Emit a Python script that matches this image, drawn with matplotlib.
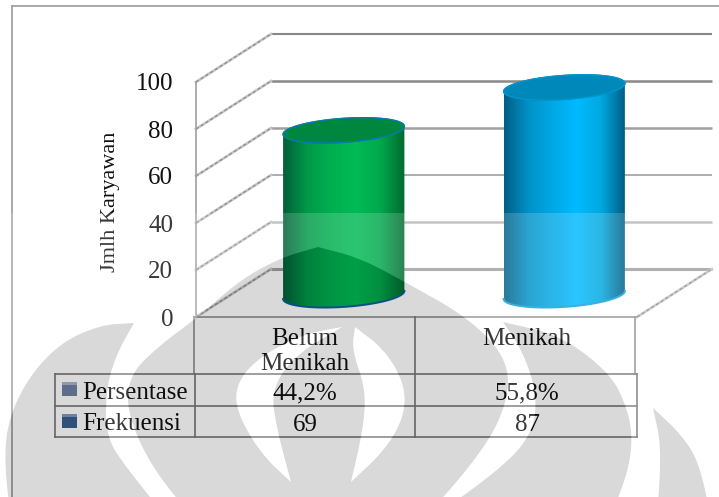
import numpy as np
import matplotlib
matplotlib.use("Agg")
import matplotlib.pyplot as plt
from matplotlib.colors import LinearSegmentedColormap
from matplotlib.patches import PathPatch, Rectangle
from matplotlib.path import Path

plt.rcParams['font.family'] = ['Liberation Serif', 'DejaVu Serif']

# data
categories = ["Belum\nMenikah", "Menikah"]
frekuensi = [69, 87]
persentase = ["44,2%", "55,8%"]
y_ticks = [0, 20, 40, 60, 80, 100]
row_names = ["Persentase", "Frekuensi"]

W, H = 719, 497
DEPTH_X, DEPTH_Y = 0.34, 20.4
CYL_X, CYL_Y = 0.17, 9.4
CYL_W, CYL_B, CYL_TILT = 0.275, 5.1, 1.7
BAR_STRETCH = 1.015

green_stops = ["#00603a", "#009a48", "#00b050", "#00bb55", "#00a84c", "#006a30"]
blue_stops = ["#005f85", "#0092c8", "#00a8e6", "#00baff", "#00a8e0", "#005a80"]

# watermark outlines in pixels, each one a list of chains that meet at sharp tips
logo_outer = [
    [[(134, 323), (100, 325), (60, 343), (28, 378), (8, 420), (4, 465), (14, 540)],
     [(14, 540), (185, 540)],
     [(185, 540), (128, 470), (106, 437), (106, 390), (116, 355), (134, 323)]],
    [[(318, 247), (280, 258), (240, 280), (198, 317), (160, 345), (129, 375), (127, 415),
      (157, 477), (215, 540)],
     [(215, 540), (405, 540)],
     [(405, 540), (485, 450), (510, 395), (505, 355), (467, 317), (407, 283), (360, 258), (318, 247)]],
    [[(503, 322), (560, 335), (610, 373), (627, 407), (633, 440), (626, 480), (600, 540)],
     [(600, 540), (400, 540)],
     [(400, 540), (500, 470), (533, 433), (537, 393), (522, 350), (503, 322)]],
    [[(653, 408), (680, 433), (700, 463), (715, 540)],
     [(715, 540), (655, 540)],
     [(655, 540), (662, 450), (653, 408)]],
]
logo_holes = [
    [[(342, 327), (300, 335), (255, 360), (235, 387), (238, 415), (262, 455), (291, 482)],
     [(291, 482), (277, 430), (271, 390), (295, 355), (342, 327)]],
    [[(355, 327), (385, 350), (405, 385), (404, 417), (385, 450), (351, 482)],
     [(351, 482), (363, 430), (366, 390), (352, 350), (355, 327)]],
]


def smooth_chain(pts, n=3):
    pts = np.array(pts, dtype=float)
    for _ in range(n):
        if len(pts) < 3:
            return pts
        a, b = pts[:-1], pts[1:]
        mid = np.column_stack([0.75 * a + 0.25 * b, 0.25 * a + 0.75 * b]).reshape(-1, 2)
        pts = np.vstack([pts[:1], mid, pts[-1:]])
    return pts


def ring(chains):
    return np.vstack([smooth_chain(c)[:-1] for c in chains])


def oriented(pts, ccw=True):
    x, y = pts[:, 0], pts[:, 1]
    area = np.sum(x * np.roll(y, -1) - np.roll(x, -1) * y)
    return pts if (area > 0) == ccw else pts[::-1]


def compound(rings):
    verts, codes = [], []
    for r in rings:
        verts.extend(r.tolist() + [r[0].tolist()])
        codes.extend([Path.MOVETO] + [Path.LINETO] * (len(r) - 1) + [Path.CLOSEPOLY])
    return Path(verts, codes)


def draw_cylinder(ax, i, value, stops, top_color, rim_top, rim_base):
    xc = i + 0.5 + CYL_X
    top = CYL_Y + value * BAR_STRETCH
    t_low = np.linspace(np.pi, 2 * np.pi, 60)
    t_up = np.linspace(0, np.pi, 60)
    low = np.column_stack([xc + CYL_W * np.cos(t_low),
                           CYL_Y + CYL_B * np.sin(t_low) + CYL_TILT * np.cos(t_low)])
    up = np.column_stack([xc + CYL_W * np.cos(t_up),
                          top + CYL_B * np.sin(t_up) + CYL_TILT * np.cos(t_up)])
    body = Path(np.vstack([low, up, low[:1]]), closed=True)
    cmap = LinearSegmentedColormap.from_list("cyl", stops)
    img = ax.imshow(np.linspace(0, 1, 256)[None, :], cmap=cmap, aspect='auto', zorder=3,
                    extent=(xc - CYL_W, xc + CYL_W, CYL_Y - CYL_B - 3, top + CYL_B + 3))
    img.set_clip_path(body, ax.transData)
    t = np.linspace(0, 2 * np.pi, 120)
    ax.fill(xc + CYL_W * np.cos(t), top + CYL_B * np.sin(t) + CYL_TILT * np.cos(t),
            color=top_color, zorder=4, clip_on=False)
    ax.plot(xc + CYL_W * np.cos(t), top + CYL_B * np.sin(t) + CYL_TILT * np.cos(t),
            color=rim_top, lw=0.9, zorder=5, clip_on=False)
    ax.plot(low[:, 0], low[:, 1], color=rim_base, lw=1.4, zorder=5, clip_on=False)


def shear_line(ax, x0, v):
    xs, ys = [x0, x0 + DEPTH_X], [v, v + DEPTH_Y]
    ax.plot(xs, ys, color="#c4c4c4", lw=1.9, clip_on=False, zorder=1)
    ax.plot(xs, ys, color="#8c8c8c", lw=0.9, ls=(0, (2.5, 2)), clip_on=False, zorder=1)


fig = plt.figure(figsize=(W / 100, H / 100), dpi=100, facecolor='white')

# chart, front plane of the 3d box
ax = fig.add_axes([196 / W, (H - 317) / H, 441 / W, 235 / H], zorder=2)
ax.patch.set_visible(False)
for s in ax.spines.values():
    s.set_visible(False)

grid_colors = {0: "#a0a0a0", 20: "#b8b8b8", 40: "#a0a0a0", 60: "#a0a0a0", 80: "#888888", 100: "#888888"}
grid_widths = {0: 2.2, 20: 1.8, 40: 1.2, 60: 1.8, 80: 1.8, 100: 1.5}
for v in y_ticks:
    ax.plot([DEPTH_X, 2 + DEPTH_X], [v + DEPTH_Y] * 2, color=grid_colors[v], lw=grid_widths[v],
            clip_on=False, zorder=1, solid_capstyle='butt')
    shear_line(ax, 0, v)
shear_line(ax, 2, 0)
ax.plot([0, 0], [0, 100], color="#a0a0a0", lw=1.2, clip_on=False, zorder=1)

draw_cylinder(ax, 0, frekuensi[0], green_stops, "#00873f", "#0a78c0", "#0f5f9a")
draw_cylinder(ax, 1, frekuensi[1], blue_stops, "#0088bb", "#0096cc", "#12a0d8")

ax.set_xlim(0, 2)
ax.set_ylim(0, 100)
ax.set_xticks([])
ax.set_yticks(y_ticks)
ax.tick_params(axis='y', length=0, pad=16.5, labelsize=18, labelcolor="#111111")
ax.set_ylabel("Jmlh Karyawan", fontsize=16, color="#111111")
ax.yaxis.set_label_coords((120 - 196) / 441, (317 - 202) / 235)

# data table and frame lines, in pixels
px = fig.add_axes([0, 0, 1, 1], zorder=3)
px.set_xlim(0, W)
px.set_ylim(H, 0)
px.axis('off')
px.plot([12, W], [6, 6], color="#9a9a9a", lw=1.2)
px.plot([12, 12], [6, H], color="#9a9a9a", lw=1.2)

col_x = [194, 414.5, 636]
rows_y = [374, 405.5, 437]
line = dict(color="#787878", lw=1.2)
px.plot([col_x[0], col_x[2]], [317, 317], color="#9a9a9a", lw=1.3)
px.plot([col_x[0]] * 2, [317, 374], color="#909090", lw=1.2)
px.plot([col_x[1]] * 2, [317, 437], **line)
px.plot([col_x[2] - 1] * 2, [317, 374], color="#909090", lw=1.2)
for y in rows_y:
    px.plot([55, col_x[2] + 1], [y, y], **line)
for x in [55, 195, col_x[2] + 1]:
    px.plot([x, x], [rows_y[0], rows_y[2]], **line)

centers = [305, 527]
for cx, name, pc, fr in zip(centers, categories, persentase, frekuensi):
    px.text(cx, 328, name, ha='center', va='top', fontsize=18, color="#111111", linespacing=1.2)
    px.text(cx, 393, pc, ha='center', va='center', fontsize=18, color="#111111")
    px.text(cx, 425, str(fr), ha='center', va='center', fontsize=18, color="#111111")

key_colors = [("#6f81a3", "#a9b4c8"), ("#38608f", "#7f9abb")]
for (name, y0, yt), (c, c2) in zip(zip(row_names, [382, 414], [393, 424]), key_colors):
    px.add_patch(Rectangle((62, y0), 15, 13.5, fc=c, ec="none"))
    px.add_patch(Rectangle((62, y0), 15, 3, fc=c2, ec="none"))
    px.text(82, yt, name, ha='left', va='center', fontsize=18, color="#111111")

# watermark laid over everything, below y=213
ov = fig.add_axes([0, 0, 1, 1], zorder=5)
ov.set_xlim(0, W)
ov.set_ylim(H, 0)
ov.axis('off')
outer = [oriented(ring(p), True) for p in logo_outer]
holes = [oriented(ring(p), False) for p in logo_holes]
ov.add_patch(PathPatch(compound(outer + holes), fc="black", alpha=0.15, ec="none"))
rect = oriented(np.array([[0, 213], [W, 213], [W, 560], [0, 560]], dtype=float), True)
veil = [rect] + [r[::-1] for r in outer] + [r[::-1] for r in holes]
ov.add_patch(PathPatch(compound(veil), fc="white", alpha=0.17, ec="none"))

fig.savefig("out.png", dpi=100)
